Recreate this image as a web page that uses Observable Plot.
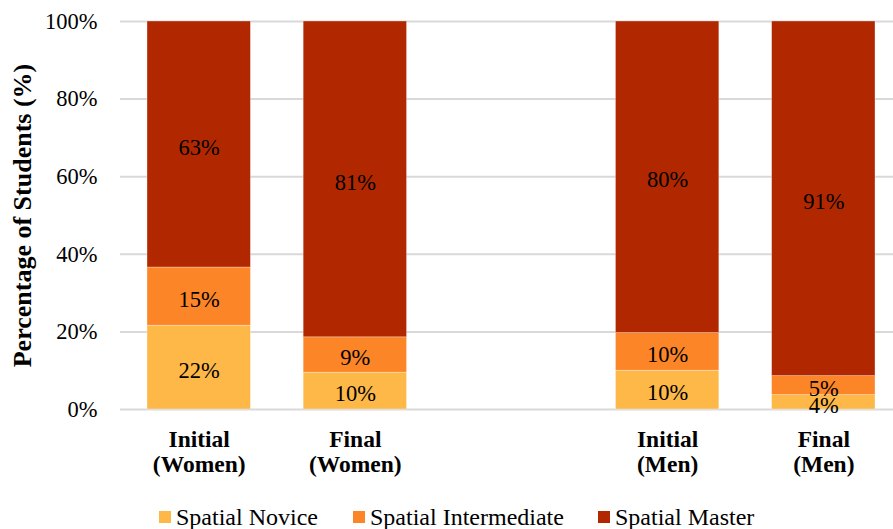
<!DOCTYPE html>
<html>
<head>
<meta charset="utf-8">
<script src="https://cdn.jsdelivr.net/npm/d3@7"></script>
<script src="https://cdn.jsdelivr.net/npm/@observablehq/plot@0.6"></script>
<style>
  html, body { margin: 0; padding: 0; background: #fff; overflow: hidden; width: 893px; height: 529px; }
  #chart { width: 893px; overflow: hidden; }
  #chart svg { max-width: none !important; display: block; }
  .legend { font-family: "Liberation Serif", "Times New Roman", serif; font-size: 24px; color: #000; }
  .legend .item { display: flex; align-items: center; position: absolute; line-height: 1; height: 24px; }
  .legend .sw { width: 12px; height: 12px; margin-right: 5px; display: inline-block; }
</style>
</head>
<body>
<div id="chart"></div>
<div class="legend" id="legend"></div>
<script>
const groups = ["Initial (Women)", "Final (Women)", "gap", "Initial (Men)", "Final (Men)"];
const groupLabels = ["Initial\n(Women)", "Final\n(Women)", "", "Initial\n(Men)", "Final\n(Men)"];
const levels = ["Spatial Novice", "Spatial Intermediate", "Spatial Master"];
const colors = ["#FDB848", "#FC8527", "#B12800"];
const barGroups = ["Initial (Women)", "Final (Women)", "Initial (Men)", "Final (Men)"];
const novice = [21.6, 9.5, 10.0, 3.7];
const intermediate = [15.0, 9.1, 9.7, 4.9];
const master = [63.4, 81.4, 80.3, 91.4];
const yTicks = [0, 20, 40, 60, 80, 100];

const series = [novice, intermediate, master];
const data = [];
barGroups.forEach((g, i) => {
  levels.forEach((l, j) => {
    data.push({group: g, level: l, value: series[j][i]});
  });
});

const chart = Plot.plot({
  width: 902,
  height: 490,
  marginLeft: 120,
  marginRight: 0,
  marginTop: 21,
  marginBottom: 81,
  style: {fontFamily: "'Liberation Serif', 'Times New Roman', serif", fontSize: "22px", color: "#000", background: "#fff", overflow: "visible"},
  x: {domain: groups, paddingInner: 0.338, paddingOuter: 0.173, round: false},
  y: {domain: [0, 100]},
  color: {domain: levels, range: colors},
  marks: [
    Plot.gridY(yTicks, {stroke: "#d9d9d9", strokeOpacity: 1, strokeWidth: 2}),
    Plot.barY(data, {x: "group", y: "value", fill: "level", order: levels, stroke: "#fff", strokeWidth: 0.6, strokeOpacity: 0.5}),
    Plot.text(data, Plot.stackY({x: "group", y: "value", z: "level", order: levels, text: d => Math.round(d.value) + "%", fill: "#000", fontSize: 22.5, dy: 3})),
    Plot.axisY({ticks: yTicks, tickSize: 0, tickPadding: 23, tickFormat: d => d + "%", fontSize: 22.5, label: null}),
    Plot.text(["Percentage of Students (%)"], {frameAnchor: "left", textAnchor: "middle", lineAnchor: "middle", dx: -98, rotate: -90, fontWeight: "bold", fontSize: 26, fill: "#000"}),
    Plot.axisX({tickSize: 0, tickPadding: 20, tickFormat: d => groupLabels[groups.indexOf(d)], fontSize: 23.5, fontWeight: "bold", lineHeight: 1.05, label: null})
  ]
});
document.getElementById("chart").appendChild(chart);

const legend = document.getElementById("legend");
const positions = [159, 353, 598];
levels.forEach((l, i) => {
  const item = document.createElement("div");
  item.className = "item";
  item.style.left = positions[i] + "px";
  item.style.top = "505px";
  const sw = document.createElement("span");
  sw.className = "sw";
  sw.style.background = colors[i];
  const t = document.createElement("span");
  t.textContent = l;
  item.appendChild(sw);
  item.appendChild(t);
  legend.appendChild(item);
});
</script>
</body>
</html>
